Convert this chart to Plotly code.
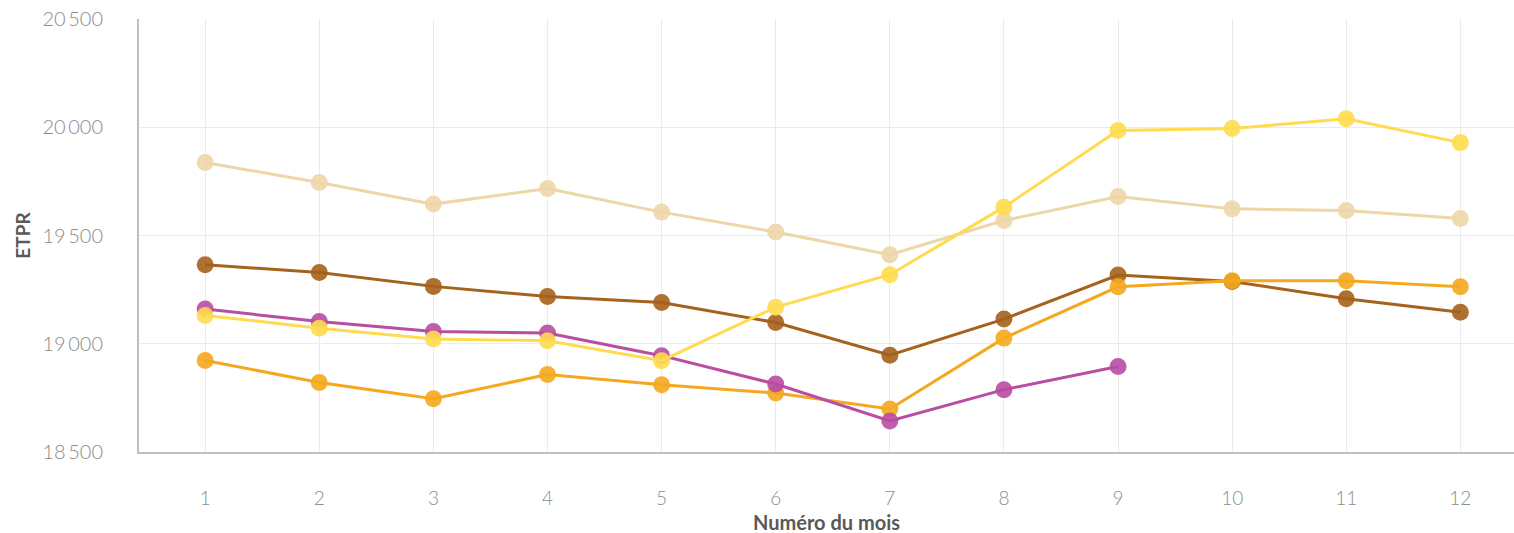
import plotly.graph_objects as go

mois = list(range(1, 13))

serie_beige = [19837, 19745, 19645, 19717, 19608, 19516, 19411, 19569, 19680, 19623, 19615, 19579]
serie_brun = [19365, 19329, 19265, 19218, 19191, 19098, 18947, 19114, 19317, 19288, 19208, 19145]
serie_orange = [18923, 18821, 18746, 18858, 18811, 18772, 18699, 19026, 19263, 19291, 19291, 19263]
serie_rose = [19160, 19103, 19057, 19050, 18945, 18814, 18643, 18788, 18895]
serie_jaune = [19131, 19072, 19022, 19014, 18922, 19169, 19319, 19631, 19985, 19994, 20039, 19929]

y_ticks = [18500, 19000, 19500, 20000, 20500]

series = [
    ("Série 1", serie_beige, "#EDD6A8"),
    ("Série 2", serie_brun, "#A5621C"),
    ("Série 3", serie_orange, "#F5A81E"),
    ("Série 4", serie_rose, "#B94DA2"),
    ("Série 5", serie_jaune, "#FFDB4F"),
]

fig = go.Figure()
for name, vals, col in series:
    fig.add_trace(go.Scatter(
        x=mois[:len(vals)], y=vals, name=name, mode="lines+markers",
        line=dict(color=col, width=3),
        marker=dict(color=col, size=17, opacity=0.9),
        showlegend=False,
    ))

fig.update_layout(
    width=1514, height=533,
    margin=dict(l=139, r=0, t=19, b=81),
    paper_bgcolor="white", plot_bgcolor="white",
    separators=",\u2009",
    font=dict(family="Lato", color="#8C8C8C"),
    annotations=[
        dict(text="<b>Numéro du mois</b>", xref="paper", yref="paper",
             x=0.5, y=-0.162, xanchor="center", yanchor="middle", showarrow=False,
             font=dict(family="Lato", size=20, color="#595959")),
        dict(text="<b>ETPR</b>", xref="paper", yref="paper",
             x=-0.085, y=0.5, xanchor="center", yanchor="middle", showarrow=False,
             textangle=-90,
             font=dict(family="Lato", size=19, color="#595959")),
    ],
)
fig.update_xaxes(
    range=[0.42, 12.47], tickmode="array", tickvals=mois,
    showgrid=True, gridcolor="#EBEBEB", gridwidth=1,
    showline=True, linecolor="#BFBFBF", linewidth=2,
    zeroline=False, ticks="", ticklabelstandoff=28, automargin=False,
    tickfont=dict(family="Lato", size=19, color="#8C8C8C", weight=300),
)
fig.update_yaxes(
    range=[18500, 20500], tickmode="array", tickvals=y_ticks,
    tickformat=",d",
    showgrid=True, gridcolor="#EBEBEB", gridwidth=1,
    showline=True, linecolor="#BFBFBF", linewidth=2,
    zeroline=False, ticks="", ticklabelstandoff=30, automargin=False,
    tickfont=dict(family="Lato", size=20, color="#8C8C8C", weight=300),
)

fig.write_html("out.html", config={"displayModeBar": False},
               post_script="document.body.style.margin='0';document.body.style.overflow='hidden';")
